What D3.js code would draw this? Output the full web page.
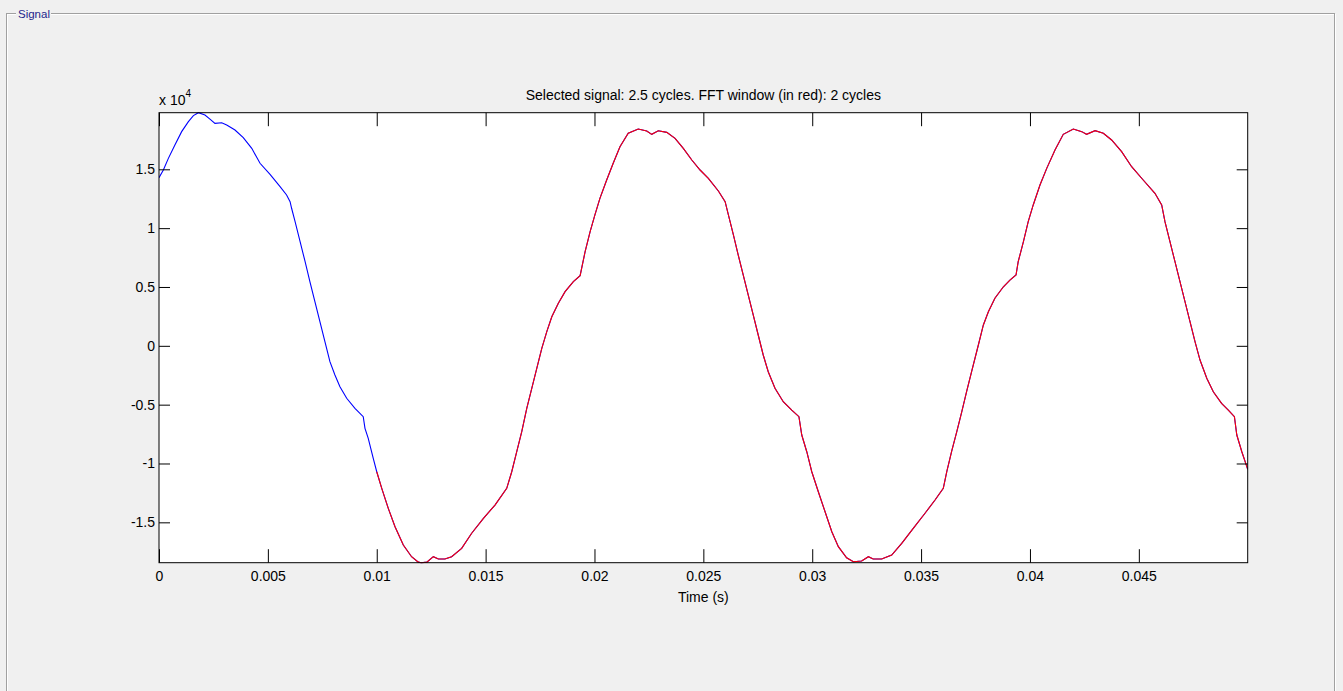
<!DOCTYPE html>
<html>
<head>
<meta charset="utf-8">
<script src="https://cdn.jsdelivr.net/npm/d3@7"></script>
<style>
  html, body { margin: 0; padding: 0; background: #f0f0f0; }
  svg { display: block; font-family: "Liberation Sans", Arial, sans-serif; }
</style>
</head>
<body>
<svg id="chart" width="1343" height="691"></svg>
<script>
// ---- Data ----
const timeMs = [
  0, 0.2, 0.43, 0.73, 1.04, 1.35, 1.58, 1.81, 2.11, 2.34, 2.57, 2.88, 3.11, 3.49, 3.87, 4.26, 4.64, 5.10, 5.56, 5.86,
  6.02, 6.09, 6.25, 6.48, 6.71, 6.93, 7.16, 7.39, 7.62, 7.85, 8.08, 8.31, 8.62, 9.0, 9.38, 9.46, 9.61, 9.84,
  10.0, 10.23, 10.53, 10.84, 11.22, 11.6, 11.91, 12.05, 12.3, 12.6, 12.83, 13.13, 13.44, 13.9, 14.36, 14.9, 15.43, 15.97,
  16.2, 16.43, 16.66, 16.89, 17.12, 17.35, 17.58, 17.81, 18.04, 18.34, 18.65, 19.03, 19.34, 19.41, 19.57, 19.8,
  20.02, 20.25, 20.56, 20.86, 21.17, 21.55, 22.01, 22.4, 22.63, 22.93, 23.32, 23.7, 24.08, 24.47, 24.85, 25.23, 25.69,
  26.0, 26.15, 26.38, 26.6, 26.83, 27.06, 27.29, 27.52, 27.75, 27.98, 28.29, 28.67, 29.06, 29.39, 29.52, 29.75, 29.98,
  30.28, 30.59, 30.9, 31.2, 31.58, 31.89, 32.27, 32.58, 32.8, 33.19, 33.65, 34.11, 34.64, 35.18, 35.64, 36.02,
  36.18, 36.4, 36.64, 36.87, 37.09, 37.32, 37.63, 37.86, 38.09, 38.39, 38.78, 39.08, 39.36, 39.46, 39.7, 39.92,
  40.15, 40.46, 40.77, 41.15, 41.53, 41.99, 42.38, 42.6, 42.99, 43.37, 43.75, 44.21, 44.67, 45.2, 45.74, 46.05,
  46.2, 46.43, 46.66, 46.89, 47.12, 47.35, 47.58, 47.81, 48.12, 48.42, 48.8, 49.11, 49.39, 49.5, 49.73, 49.96, 50.0
];
const signal = [
  14290, 14940, 15930, 17060, 18200, 19050, 19560, 19810, 19610, 19270, 18900, 18960, 18760, 18340, 17690, 16780, 15510, 14570, 13520, 12820,
  12250, 11690, 10550, 8850, 7150, 5450, 3750, 2050, 350, -1350, -2480, -3480, -4460, -5310, -6020, -7010, -7860, -9560,
  -10700, -12110, -13810, -15370, -16930, -17920, -18380, -18430, -18380, -17920, -18120, -18120, -17920, -17210, -15930, -14660, -13530, -12110,
  -10700, -9000, -7300, -5310, -3610, -1910, -210, 1200, 2470, 3610, 4600, 5450, 5960, 6590, 8000, 9700,
  11120, 12530, 14090, 15510, 16920, 18060, 18420, 18260, 17970, 18280, 18140, 17630, 16780, 15790, 14940, 14230, 13160,
  12250, 11120, 9420, 7720, 6020, 4320, 2620, 920, -780, -2200, -3610, -4750, -5460, -6020, -7580, -9000, -10700,
  -12400, -14100, -15800, -17070, -18010, -18350, -18290, -17920, -18120, -18120, -17780, -16780, -15510, -14230, -13100, -12110,
  -10700, -9000, -7300, -5600, -3900, -2200, 70, 1770, 2900, 4040, 5020, 5590, 6020, 7150, 8850, 10550,
  11970, 13670, 15080, 16640, 17970, 18420, 18200, 17970, 18280, 18060, 17490, 16500, 15220, 14090, 12960, 11970,
  10550, 8850, 7150, 5450, 3750, 2050, 350, -1210, -2760, -3900, -4890, -5460, -6020, -7580, -9000, -10270, -10500
];
const fftWindowStartMs = 10;          // red overlay: 2 cycles from 0.01 s to the end
const xDomain = [0, 0.05];
const yDomain = [-18430, 19810];
const xTicks = [0, 0.005, 0.01, 0.015, 0.02, 0.025, 0.03, 0.035, 0.04, 0.045];
const xTickLabels = ["0", "0.005", "0.01", "0.015", "0.02", "0.025", "0.03", "0.035", "0.04", "0.045"];
const yTicks = [-15000, -10000, -5000, 0, 5000, 10000, 15000];
const yTickLabels = ["-1.5", "-1", "-0.5", "0", "0.5", "1", "1.5"];
const titleText = "Selected signal: 2.5 cycles. FFT window (in red): 2 cycles";
const xLabelText = "Time (s)";
const panelTitle = "Signal";

// ---- Layout ----
const svg = d3.select("#chart");
const L = 159, R = 1247.7, T = 112.7, B = 562.7;
const FS = 14;

const x = d3.scaleLinear().domain(xDomain).range([L, R]);
const y = d3.scaleLinear().domain(yDomain).range([B, T]);

// Panel (etched border)
svg.append("rect").attr("x", 7.5).attr("y", 14.5).attr("width", 1328).attr("height", 700)
  .attr("fill", "none").attr("stroke", "#ffffff");
svg.append("rect").attr("x", 6.5).attr("y", 13.5).attr("width", 1328).attr("height", 700)
  .attr("fill", "none").attr("stroke", "#a0a0a0");
svg.append("rect").attr("x", 16).attr("y", 6).attr("width", 35).attr("height", 15).attr("fill", "#f0f0f0");
svg.append("text").attr("x", 18).attr("y", 18).attr("font-size", 11.5).attr("fill", "#26268c").text(panelTitle);

// Plot background
svg.append("rect").attr("x", L).attr("y", T).attr("width", R - L).attr("height", B - T).attr("fill", "#ffffff");

const data = timeMs.map((t, i) => ({ t: t / 1000, v: signal[i] }));
const redData = data.filter(d => d.t * 1000 >= fftWindowStartMs);

const line = d3.line().x(d => x(d.t)).y(d => y(d.v));

svg.append("clipPath").attr("id", "clip").append("rect")
  .attr("x", L).attr("y", T - 1).attr("width", R - L).attr("height", B - T + 2);

svg.append("path").datum(data).attr("d", line).attr("fill", "none")
  .attr("stroke", "#0000ff").attr("stroke-width", 1.1).attr("clip-path", "url(#clip)");
svg.append("path").datum(redData).attr("d", line).attr("fill", "none")
  .attr("stroke", "#ff0000").attr("stroke-width", 1.1).attr("clip-path", "url(#clip)");

// Axes (inward ticks on all four sides)
const fmtX = d => xTickLabels[xTicks.indexOf(d)];
const fmtY = d => yTickLabels[yTicks.indexOf(d)];

const axB = svg.append("g").attr("transform", `translate(0,${B})`)
  .call(d3.axisBottom(x).tickValues(xTicks).tickFormat(fmtX).tickSizeInner(-13.5).tickSizeOuter(0).tickPadding(8));
const axT = svg.append("g").attr("transform", `translate(0,${T})`)
  .call(d3.axisTop(x).tickValues(xTicks).tickFormat("").tickSizeInner(-13.5).tickSizeOuter(0));
const axL = svg.append("g").attr("transform", `translate(${L},0)`)
  .call(d3.axisLeft(y).tickValues(yTicks).tickFormat(fmtY).tickSizeInner(-11).tickSizeOuter(0).tickPadding(4));
const axR = svg.append("g").attr("transform", `translate(${R},0)`)
  .call(d3.axisRight(y).tickValues(yTicks).tickFormat("").tickSizeInner(-11).tickSizeOuter(0));

[axB, axT, axL, axR].forEach(g => {
  g.select(".domain").remove();
  g.selectAll("line").attr("stroke", "#000");
  g.selectAll("text").attr("font-size", FS).attr("fill", "#000")
    .attr("font-family", "'Liberation Sans', Arial, sans-serif");
});

// Box
svg.append("rect").attr("x", L).attr("y", T).attr("width", R - L).attr("height", B - T)
  .attr("fill", "none").attr("stroke", "#000").attr("stroke-width", 1);

// Exponent label
const ex = svg.append("text").attr("x", 159).attr("y", 105).attr("font-size", FS).attr("fill", "#000");
ex.append("tspan").text("x 10");
ex.append("tspan").attr("font-size", 10).attr("dy", -8).text("4");

// Title and x label
svg.append("text").attr("x", (L + R) / 2).attr("y", 100).attr("text-anchor", "middle")
  .attr("font-size", FS).attr("fill", "#000").text(titleText);
svg.append("text").attr("x", (L + R) / 2).attr("y", 602).attr("text-anchor", "middle")
  .attr("font-size", FS).attr("fill", "#000").text(xLabelText);
</script>
</body>
</html>
